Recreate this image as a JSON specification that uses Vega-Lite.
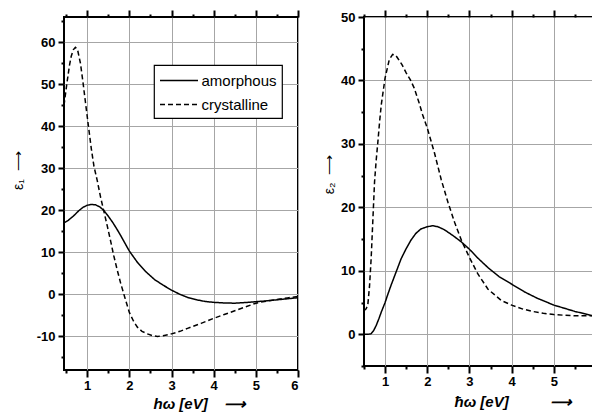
{
  "$schema": "https://vega.github.io/schema/vega-lite/v6.json",
  "padding": {"left": 10, "top": 8, "right": 0, "bottom": 0},
  "background": "white",
  "spacing": 66,
  "bounds": "flush",
  "datasets": {
    "eps1": [
      {"x": 0.45, "y": 17.0, "s": "amorphous"}, {"x": 0.55, "y": 17.6, "s": "amorphous"}, {"x": 0.68, "y": 18.7, "s": "amorphous"}, {"x": 0.8, "y": 19.9, "s": "amorphous"}, {"x": 0.9, "y": 20.7, "s": "amorphous"}, {"x": 1.0, "y": 21.2, "s": "amorphous"}, {"x": 1.1, "y": 21.4, "s": "amorphous"}, {"x": 1.2, "y": 21.3, "s": "amorphous"}, {"x": 1.3, "y": 20.8, "s": "amorphous"}, {"x": 1.4, "y": 19.9, "s": "amorphous"}, {"x": 1.5, "y": 18.6, "s": "amorphous"}, {"x": 1.6, "y": 17.2, "s": "amorphous"}, {"x": 1.7, "y": 15.6, "s": "amorphous"}, {"x": 1.8, "y": 13.9, "s": "amorphous"}, {"x": 1.9, "y": 12.1, "s": "amorphous"}, {"x": 2.0, "y": 10.3, "s": "amorphous"}, {"x": 2.2, "y": 7.5, "s": "amorphous"}, {"x": 2.4, "y": 5.3, "s": "amorphous"}, {"x": 2.6, "y": 3.5, "s": "amorphous"}, {"x": 2.8, "y": 2.2, "s": "amorphous"}, {"x": 3.0, "y": 1.0, "s": "amorphous"}, {"x": 3.2, "y": 0.0, "s": "amorphous"}, {"x": 3.4, "y": -0.8, "s": "amorphous"}, {"x": 3.6, "y": -1.3, "s": "amorphous"}, {"x": 3.8, "y": -1.7, "s": "amorphous"}, {"x": 4.0, "y": -1.9, "s": "amorphous"}, {"x": 4.25, "y": -2.05, "s": "amorphous"}, {"x": 4.5, "y": -2.1, "s": "amorphous"}, {"x": 4.75, "y": -1.95, "s": "amorphous"}, {"x": 5.0, "y": -1.75, "s": "amorphous"}, {"x": 5.25, "y": -1.55, "s": "amorphous"}, {"x": 5.5, "y": -1.3, "s": "amorphous"}, {"x": 5.75, "y": -1.05, "s": "amorphous"}, {"x": 6.0, "y": -0.8, "s": "amorphous"},
      {"x": 0.45, "y": 45.0, "s": "crystalline"}, {"x": 0.52, "y": 50.3, "s": "crystalline"}, {"x": 0.58, "y": 54.5, "s": "crystalline"}, {"x": 0.62, "y": 56.6, "s": "crystalline"}, {"x": 0.67, "y": 58.2, "s": "crystalline"}, {"x": 0.72, "y": 58.8, "s": "crystalline"}, {"x": 0.77, "y": 58.3, "s": "crystalline"}, {"x": 0.84, "y": 55.0, "s": "crystalline"}, {"x": 0.9, "y": 50.5, "s": "crystalline"}, {"x": 0.96, "y": 45.6, "s": "crystalline"}, {"x": 1.04, "y": 39.2, "s": "crystalline"}, {"x": 1.1, "y": 34.5, "s": "crystalline"}, {"x": 1.16, "y": 30.5, "s": "crystalline"}, {"x": 1.24, "y": 27.0, "s": "crystalline"}, {"x": 1.32, "y": 23.0, "s": "crystalline"}, {"x": 1.4, "y": 19.6, "s": "crystalline"}, {"x": 1.48, "y": 16.1, "s": "crystalline"}, {"x": 1.56, "y": 12.5, "s": "crystalline"}, {"x": 1.63, "y": 9.2, "s": "crystalline"}, {"x": 1.71, "y": 5.9, "s": "crystalline"}, {"x": 1.79, "y": 2.8, "s": "crystalline"}, {"x": 1.9, "y": -1.0, "s": "crystalline"}, {"x": 2.0, "y": -4.3, "s": "crystalline"}, {"x": 2.1, "y": -6.4, "s": "crystalline"}, {"x": 2.19, "y": -7.8, "s": "crystalline"}, {"x": 2.3, "y": -8.8, "s": "crystalline"}, {"x": 2.43, "y": -9.4, "s": "crystalline"}, {"x": 2.55, "y": -9.85, "s": "crystalline"}, {"x": 2.67, "y": -10.0, "s": "crystalline"}, {"x": 2.8, "y": -9.85, "s": "crystalline"}, {"x": 3.0, "y": -9.4, "s": "crystalline"}, {"x": 3.2, "y": -8.8, "s": "crystalline"}, {"x": 3.38, "y": -8.1, "s": "crystalline"}, {"x": 3.7, "y": -6.9, "s": "crystalline"}, {"x": 4.0, "y": -5.7, "s": "crystalline"}, {"x": 4.25, "y": -4.8, "s": "crystalline"}, {"x": 4.5, "y": -3.9, "s": "crystalline"}, {"x": 4.75, "y": -3.0, "s": "crystalline"}, {"x": 5.0, "y": -2.1, "s": "crystalline"}, {"x": 5.25, "y": -1.6, "s": "crystalline"}, {"x": 5.5, "y": -1.2, "s": "crystalline"}, {"x": 5.75, "y": -0.85, "s": "crystalline"}, {"x": 6.0, "y": -0.5, "s": "crystalline"}
    ],
    "eps2": [
      {"x": 0.5, "y": 0.0, "s": "amorphous"}, {"x": 0.6, "y": 0.0, "s": "amorphous"}, {"x": 0.67, "y": 0.1, "s": "amorphous"}, {"x": 0.73, "y": 0.6, "s": "amorphous"}, {"x": 0.79, "y": 1.4, "s": "amorphous"}, {"x": 0.85, "y": 2.4, "s": "amorphous"}, {"x": 0.91, "y": 3.5, "s": "amorphous"}, {"x": 1.0, "y": 5.0, "s": "amorphous"}, {"x": 1.06, "y": 6.2, "s": "amorphous"}, {"x": 1.14, "y": 7.7, "s": "amorphous"}, {"x": 1.22, "y": 9.1, "s": "amorphous"}, {"x": 1.3, "y": 10.5, "s": "amorphous"}, {"x": 1.38, "y": 11.9, "s": "amorphous"}, {"x": 1.5, "y": 13.5, "s": "amorphous"}, {"x": 1.61, "y": 14.8, "s": "amorphous"}, {"x": 1.73, "y": 15.9, "s": "amorphous"}, {"x": 1.85, "y": 16.6, "s": "amorphous"}, {"x": 2.0, "y": 16.95, "s": "amorphous"}, {"x": 2.13, "y": 17.1, "s": "amorphous"}, {"x": 2.25, "y": 16.95, "s": "amorphous"}, {"x": 2.4, "y": 16.5, "s": "amorphous"}, {"x": 2.6, "y": 15.6, "s": "amorphous"}, {"x": 2.8, "y": 14.6, "s": "amorphous"}, {"x": 3.0, "y": 13.4, "s": "amorphous"}, {"x": 3.2, "y": 12.0, "s": "amorphous"}, {"x": 3.44, "y": 10.5, "s": "amorphous"}, {"x": 3.7, "y": 9.1, "s": "amorphous"}, {"x": 4.0, "y": 7.9, "s": "amorphous"}, {"x": 4.3, "y": 6.7, "s": "amorphous"}, {"x": 4.6, "y": 5.7, "s": "amorphous"}, {"x": 5.0, "y": 4.6, "s": "amorphous"}, {"x": 5.5, "y": 3.6, "s": "amorphous"}, {"x": 6.0, "y": 2.8, "s": "amorphous"},
      {"x": 0.5, "y": 3.7, "s": "crystalline"}, {"x": 0.55, "y": 4.0, "s": "crystalline"}, {"x": 0.59, "y": 4.6, "s": "crystalline"}, {"x": 0.63, "y": 7.5, "s": "crystalline"}, {"x": 0.67, "y": 12.0, "s": "crystalline"}, {"x": 0.71, "y": 18.0, "s": "crystalline"}, {"x": 0.75, "y": 24.0, "s": "crystalline"}, {"x": 0.79, "y": 27.5, "s": "crystalline"}, {"x": 0.83, "y": 30.4, "s": "crystalline"}, {"x": 0.87, "y": 33.5, "s": "crystalline"}, {"x": 0.91, "y": 36.2, "s": "crystalline"}, {"x": 1.0, "y": 40.4, "s": "crystalline"}, {"x": 1.1, "y": 43.3, "s": "crystalline"}, {"x": 1.18, "y": 44.1, "s": "crystalline"}, {"x": 1.25, "y": 44.0, "s": "crystalline"}, {"x": 1.3, "y": 43.5, "s": "crystalline"}, {"x": 1.4, "y": 42.5, "s": "crystalline"}, {"x": 1.5, "y": 41.2, "s": "crystalline"}, {"x": 1.6, "y": 40.1, "s": "crystalline"}, {"x": 1.69, "y": 38.8, "s": "crystalline"}, {"x": 1.8, "y": 36.6, "s": "crystalline"}, {"x": 1.89, "y": 34.6, "s": "crystalline"}, {"x": 2.0, "y": 32.5, "s": "crystalline"}, {"x": 2.17, "y": 28.6, "s": "crystalline"}, {"x": 2.33, "y": 24.4, "s": "crystalline"}, {"x": 2.49, "y": 20.8, "s": "crystalline"}, {"x": 2.65, "y": 17.6, "s": "crystalline"}, {"x": 2.81, "y": 14.8, "s": "crystalline"}, {"x": 3.0, "y": 12.1, "s": "crystalline"}, {"x": 3.2, "y": 9.5, "s": "crystalline"}, {"x": 3.44, "y": 7.1, "s": "crystalline"}, {"x": 3.76, "y": 5.3, "s": "crystalline"}, {"x": 4.0, "y": 4.6, "s": "crystalline"}, {"x": 4.25, "y": 4.0, "s": "crystalline"}, {"x": 4.5, "y": 3.6, "s": "crystalline"}, {"x": 4.75, "y": 3.3, "s": "crystalline"}, {"x": 5.0, "y": 3.1, "s": "crystalline"}, {"x": 5.5, "y": 2.9, "s": "crystalline"}, {"x": 6.0, "y": 2.9, "s": "crystalline"}
    ]
  },
  "resolve": {"scale": {"strokeDash": "independent"}, "legend": {"strokeDash": "independent"}},
  "hconcat": [
    {
      "width": 234,
      "height": 353,
      "data": {"name": "eps1"},
      "resolve": {"axis": {"x": "independent", "y": "independent"}},
      "layer": [
        {
          "mark": {"type": "line", "color": "black", "strokeWidth": 1.5},
          "encoding": {
            "x": {"field": "x", "type": "quantitative", "scale": {"domain": [0.45, 6], "nice": false, "zero": false},
              "axis": {"orient": "bottom", "values": [1, 2, 3, 4, 5, 6], "format": "d", "tickSize": 7, "ticks": true, "labelPadding": 2,
                "title": "hω [eV]\u00a0\u00a0\u00a0\u00a0⟶",
                "titleFontStyle": "italic", "titleFontWeight": "bold", "titleFontSize": 15,
                "titleAlign": "left", "titleBaseline": "middle", "titleX": 89, "titleY": 33}},
            "y": {"field": "y", "type": "quantitative", "scale": {"domain": [-18, 66], "nice": false, "zero": false},
              "axis": {"orient": "left", "values": [-10, 0, 10, 20, 30, 40, 50, 60], "labelExpr": "'' + datum.value", "tickSize": 6, "ticks": true,
                "title": "ε₁\u00a0\u00a0⟶", "titleFontSize": 14, "titleFontWeight": "normal",
                "titleAngle": -90, "titleAlign": "center", "titleBaseline": "middle", "titleX": -46, "titleY": 153}},
            "strokeDash": {"field": "s", "type": "nominal",
              "scale": {"domain": ["amorphous", "crystalline"], "range": [[1, 0], [5, 3]]},
              "legend": {"title": null, "orient": "none", "legendX": 90, "legendY": 48,
                "strokeColor": "black", "fillColor": "white", "padding": 5,
                "symbolType": "M-2,0H2", "symbolSize": 361, "symbolOffset": 9.5, "symbolStrokeWidth": 1.5, "symbolStrokeColor": "black",
                "labelFontSize": 15, "labelFont": "Liberation Sans", "labelColor": "black", "labelOffset": 12, "rowPadding": 5}}
          }
        },
        {
          "mark": {"type": "line", "opacity": 0},
          "encoding": {
            "x": {"field": "x", "type": "quantitative", "scale": {"domain": [0.45, 6], "nice": false, "zero": false},
              "axis": {"orient": "bottom", "values": [0.5, 1.5, 2.5, 3.5, 4.5, 5.5], "labels": false, "grid": false, "title": null, "tickSize": 3, "ticks": true}},
            "y": {"field": "y", "type": "quantitative",
              "axis": {"orient": "left", "values": [-15, -5, 5, 15, 25, 35, 45, 55, 65], "labels": false, "grid": false, "title": null, "tickSize": 3, "ticks": true}}
          }
        },
        {
          "mark": {"type": "line", "opacity": 0},
          "encoding": {
            "x": {"field": "x", "type": "quantitative", "scale": {"domain": [0.45, 6], "nice": false, "zero": false},
              "axis": {"orient": "top", "values": [1, 2, 3, 4, 5, 6], "labels": false, "grid": false, "title": null, "tickSize": 7, "ticks": true}},
            "y": {"field": "y", "type": "quantitative", "axis": null}
          }
        },
        {
          "mark": {"type": "line", "opacity": 0},
          "encoding": {
            "x": {"field": "x", "type": "quantitative", "scale": {"domain": [0.45, 6], "nice": false, "zero": false},
              "axis": {"orient": "top", "values": [0.5, 1.5, 2.5, 3.5, 4.5, 5.5], "labels": false, "grid": false, "title": null, "tickSize": 3, "ticks": true}},
            "y": {"field": "y", "type": "quantitative", "axis": null}
          }
        }
      ]
    },
    {
      "width": 232,
      "height": 349,
      "data": {"name": "eps2"},
      "resolve": {"axis": {"x": "independent", "y": "independent"}},
      "layer": [
        {
          "mark": {"type": "line", "color": "black", "strokeWidth": 1.5},
          "encoding": {
            "x": {"field": "x", "type": "quantitative", "scale": {"domain": [0.5, 6], "nice": false, "zero": false},
              "axis": {"orient": "bottom", "values": [1, 2, 3, 4, 5, 6], "labelExpr": "datum.value < 6 ? '' + datum.value : ''", "tickSize": 7, "ticks": true, "labelPadding": 2,
                "title": "ħω [eV]\u00a0\u00a0\u00a0\u00a0\u00a0\u00a0\u00a0\u00a0\u00a0\u00a0⟶",
                "titleFontStyle": "italic", "titleFontWeight": "bold", "titleFontSize": 15,
                "titleAlign": "left", "titleBaseline": "middle", "titleX": 90, "titleY": 35}},
            "y": {"field": "y", "type": "quantitative", "scale": {"domain": [-5, 50], "nice": false, "zero": false},
              "axis": {"orient": "left", "values": [0, 10, 20, 30, 40, 50], "labelExpr": "'' + datum.value", "tickSize": 6, "ticks": true,
                "title": "ε₂\u00a0\u00a0⟶", "titleFontSize": 14, "titleFontWeight": "normal",
                "titleAngle": -90, "titleAlign": "center", "titleBaseline": "middle", "titleX": -35, "titleY": 157}},
            "strokeDash": {"field": "s", "type": "nominal",
              "scale": {"domain": ["amorphous", "crystalline"], "range": [[1, 0], [5, 3]]}, "legend": null}
          }
        },
        {
          "mark": {"type": "line", "opacity": 0},
          "encoding": {
            "x": {"field": "x", "type": "quantitative", "scale": {"domain": [0.5, 6], "nice": false, "zero": false},
              "axis": {"orient": "bottom", "values": [0.5, 1.5, 2.5, 3.5, 4.5, 5.5], "labels": false, "grid": false, "title": null, "tickSize": 3, "ticks": true}},
            "y": {"field": "y", "type": "quantitative",
              "axis": {"orient": "left", "values": [-5, 5, 15, 25, 35, 45], "labels": false, "grid": false, "title": null, "tickSize": 3, "ticks": true}}
          }
        },
        {
          "mark": {"type": "line", "opacity": 0},
          "encoding": {
            "x": {"field": "x", "type": "quantitative", "scale": {"domain": [0.5, 6], "nice": false, "zero": false},
              "axis": {"orient": "top", "values": [1, 2, 3, 4, 5, 6], "labels": false, "grid": false, "title": null, "tickSize": 7, "ticks": true}},
            "y": {"field": "y", "type": "quantitative", "axis": null}
          }
        },
        {
          "mark": {"type": "line", "opacity": 0},
          "encoding": {
            "x": {"field": "x", "type": "quantitative", "scale": {"domain": [0.5, 6], "nice": false, "zero": false},
              "axis": {"orient": "top", "values": [0.5, 1.5, 2.5, 3.5, 4.5, 5.5], "labels": false, "grid": false, "title": null, "tickSize": 3, "ticks": true}},
            "y": {"field": "y", "type": "quantitative", "axis": null}
          }
        }
      ]
    }
  ],
  "config": {
    "font": "Liberation Sans",
    "view": {"stroke": "black", "strokeWidth": 2},
    "legend": {"strokeWidth": 1.2},
    "axis": {
      "domain": false, "ticks": true,
      "labelFont": "Liberation Sans", "labelFontWeight": "bold", "labelFontSize": 13, "labelColor": "black",
      "labelPadding": 3,
      "tickColor": "#000000", "tickWidth": 2, "tickOpacity": 1,
      "grid": true, "gridColor": "#a6a6a6", "gridWidth": 1,
      "titleFont": "Liberation Sans", "titleColor": "black"
    }
  }
}
